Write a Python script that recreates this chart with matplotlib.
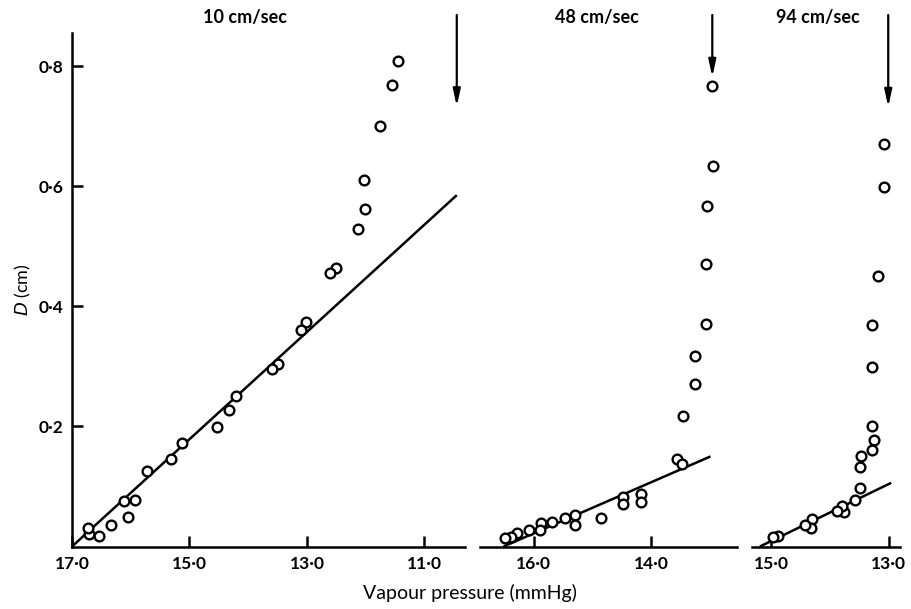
import matplotlib
matplotlib.use("Agg")
import matplotlib.pyplot as plt
from matplotlib.ticker import FixedLocator, FuncFormatter

plt.rcParams['font.family'] = ['Lato', 'DejaVu Sans']

# ---- data ----
titles = ["10 cm/sec", "48 cm/sec", "94 cm/sec"]

p1_x = [11.45, 11.56, 11.75, 12.03, 12.01, 12.13, 12.51, 12.61, 13.02, 13.11,
        13.50, 13.60, 14.21, 14.32, 14.53, 15.12, 15.31, 15.73, 15.92, 16.11,
        16.04, 16.34, 16.54, 16.71, 16.72]
p1_y = [0.809, 0.769, 0.700, 0.611, 0.562, 0.528, 0.463, 0.455, 0.373, 0.360,
        0.304, 0.295, 0.251, 0.228, 0.199, 0.173, 0.146, 0.126, 0.077, 0.076,
        0.049, 0.036, 0.017, 0.020, 0.031]
p1_fit_x = [17.0, 10.45]
p1_fit_y = [0.0, 0.585]
p1_arrow_x = 10.45

p2_x = [12.96, 12.94, 13.05, 13.07, 13.06, 13.25, 13.26, 13.46, 13.56, 13.48,
        14.18, 14.18, 14.48, 14.48, 14.86, 15.30, 15.30, 15.47, 15.69, 15.87,
        15.89, 16.08, 16.28, 16.39, 16.49]
p2_y = [0.766, 0.633, 0.567, 0.470, 0.370, 0.317, 0.270, 0.217, 0.145, 0.138,
        0.088, 0.074, 0.083, 0.070, 0.047, 0.052, 0.036, 0.048, 0.040, 0.039,
        0.027, 0.028, 0.023, 0.015, 0.014]
p2_fit_x = [16.51, 12.99]
p2_fit_y = [0.0, 0.150]
p2_arrow_x = 12.96

p3_x = [13.09, 13.08, 13.19, 13.28, 13.29, 13.28, 13.26, 13.29, 13.47, 13.49,
        13.49, 13.58, 13.77, 13.79, 13.88, 14.31, 14.33, 14.42, 14.89, 14.96]
p3_y = [0.670, 0.599, 0.450, 0.369, 0.299, 0.201, 0.178, 0.160, 0.150, 0.133,
        0.098, 0.077, 0.057, 0.067, 0.059, 0.046, 0.031, 0.036, 0.018, 0.015]
p3_fit_x = [15.19, 12.96]
p3_fit_y = [0.0, 0.106]
p3_arrow_x = 13.01

y_ticks = [0.2, 0.4, 0.6, 0.8]
x_ticks = [[17.0, 15.0, 13.0, 11.0], [16.0, 14.0], [15.0, 13.0]]
xlims = [(17.0, 10.31), (16.91, 12.54), (15.33, 12.81)]
arrow_ends = [0.733, 0.782, 0.732]

panels = [
    (p1_x, p1_y, p1_fit_x, p1_fit_y, p1_arrow_x),
    (p2_x, p2_y, p2_fit_x, p2_fit_y, p2_arrow_x),
    (p3_x, p3_y, p3_fit_x, p3_fit_y, p3_arrow_x),
]

fig = plt.figure(figsize=(9.11, 6.09), dpi=100)
W, H = 911, 609
lefts = [72, 480, 751.7]
rights = [465, 737, 900]
bottom_px, top_px = 546.5, 33
ymax = 0.855

def dotfmt(v, pos):
    return ("%.1f" % v).replace(".", "\u00b7")

for i, (px, py, fx, fy, ax_x) in enumerate(panels):
    ax = fig.add_axes([lefts[i] / W, 1 - bottom_px / H,
                       (rights[i] - lefts[i]) / W, (bottom_px - top_px) / H])
    ax.set_xlim(*xlims[i])
    ax.set_ylim(0, ymax)
    ax.plot(fx, fy, color='black', lw=1.8, solid_capstyle='butt')
    ax.plot(px, py, linestyle='none', marker='o', markersize=7,
            markerfacecolor='white', markeredgecolor='black', markeredgewidth=1.7,
            clip_on=False)
    ax.annotate('', xy=(ax_x, arrow_ends[i]), xytext=(ax_x, 0.885),
                xycoords='data', annotation_clip=False,
                arrowprops=dict(arrowstyle='-|>,head_length=1.0,head_width=0.22',
                                color='black', lw=1.6, shrinkA=0, shrinkB=0))
    for s in ['top', 'right']:
        ax.spines[s].set_visible(False)
    ax.spines['bottom'].set_linewidth(1.8)
    ax.xaxis.set_major_locator(FixedLocator(x_ticks[i]))
    ax.xaxis.set_major_formatter(FuncFormatter(dotfmt))
    ax.tick_params(axis='x', direction='in', length=8, width=1.8,
                   labelsize=12.5, pad=7)
    for lab in ax.get_xticklabels():
        lab.set_fontweight('bold')
    if i == 0:
        ax.spines['left'].set_linewidth(1.8)
        ax.yaxis.set_major_locator(FixedLocator(y_ticks))
        ax.yaxis.set_major_formatter(FuncFormatter(dotfmt))
        ax.tick_params(axis='y', direction='in', length=8, width=1.8,
                       labelsize=12.5, pad=6)
        for lab in ax.get_yticklabels():
            lab.set_fontweight('bold')
        ax.set_ylabel(r'$D$ (cm)', fontsize=13, labelpad=4)
    else:
        ax.spines['left'].set_visible(False)
        ax.set_yticks([])
    ax.set_facecolor('none')

title_x = [245, 597, 818]
for tx, t in zip(title_x, titles):
    fig.text(tx / W, 1 - 17 / H, t, ha='center', va='center',
             fontsize=13, fontweight='bold')

fig.text(470 / W, 1 - 593 / H, 'Vapour pressure (mmHg)', ha='center',
         va='center', fontsize=14)

fig.savefig('out.png', dpi=100, facecolor='white')
